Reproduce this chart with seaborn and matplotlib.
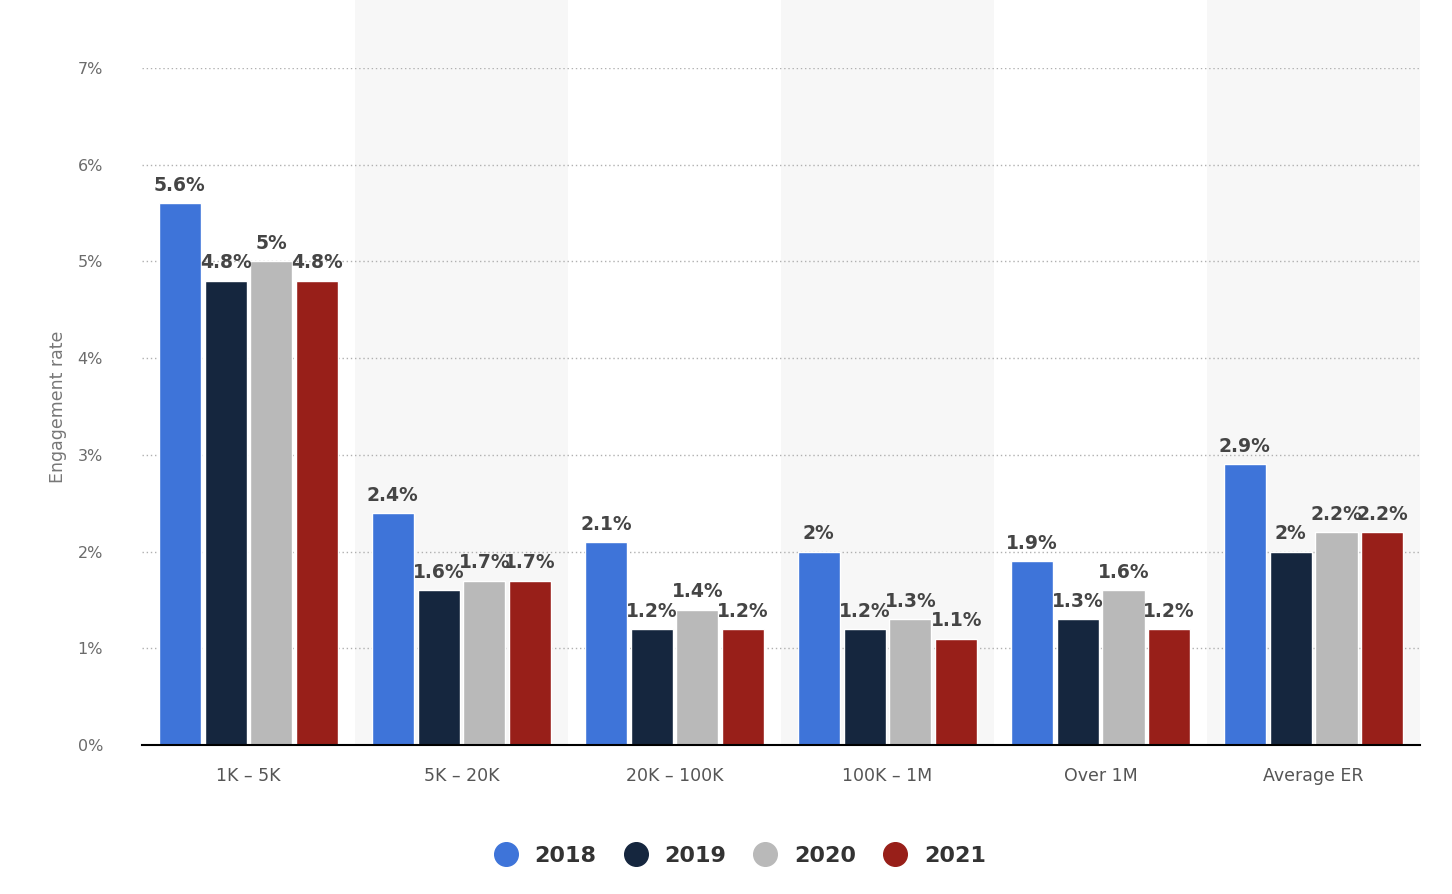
import numpy as np
import pandas as pd
import seaborn as sns
import matplotlib.pyplot as plt
from matplotlib.lines import Line2D

# data
categories = ['1K – 5K', '5K – 20K', '20K – 100K', '100K – 1M', 'Over 1M', 'Average ER']
years = ['2018', '2019', '2020', '2021']
er_2018 = [5.6, 2.4, 2.1, 2.0, 1.9, 2.9]
er_2019 = [4.8, 1.6, 1.2, 1.2, 1.3, 2.0]
er_2020 = [5.0, 1.7, 1.4, 1.3, 1.6, 2.2]
er_2021 = [4.8, 1.7, 1.2, 1.1, 1.2, 2.2]
y_ticks = [0, 1, 2, 3, 4, 5, 6, 7]

colors = {'2018': '#3e74d9', '2019': '#15263e', '2020': '#b9b9b9', '2021': '#981f19'}

df = pd.DataFrame({
    'category': categories * 4,
    'year': np.repeat(years, len(categories)),
    'rate': er_2018 + er_2019 + er_2020 + er_2021,
})

sns.set_theme(style='white')
plt.rcParams['font.family'] = ['DejaVu Sans']

fig = plt.figure(figsize=(14.52, 8.94), dpi=100)
ax = fig.add_axes([0.0978, 0.1667, 0.8802, 0.7573])

# alternating background bands
for i in range(1, len(categories), 2):
    ax.axvspan(i - 0.5, i + 0.5, ymin=0, ymax=1.1, color='#f7f7f7', zorder=0, clip_on=False, lw=0)

sns.barplot(data=df, x='category', y='rate', hue='year', palette=colors,
            width=0.86, gap=0.08, ax=ax, legend=False, zorder=3, saturation=1)

for cont in ax.containers:
    ax.bar_label(cont, labels=[f'{b.get_height():g}%' for b in cont], padding=6,
                 fontsize=13.5, fontweight='bold', color='#454545')

ax.set_xlim(-0.5, len(categories) - 0.5)
ax.set_ylim(0, 7)
ax.set_yticks(y_ticks)
ax.set_yticklabels([f'{t}%' for t in y_ticks])
ax.yaxis.grid(True, linestyle=(0, (1, 2)), color='#b0b0b0', linewidth=1)
ax.set_axisbelow(True)
for s in ['top', 'right', 'left']:
    ax.spines[s].set_visible(False)
ax.spines['bottom'].set_color('#000000')
ax.spines['bottom'].set_linewidth(1.5)
ax.spines['bottom'].set_zorder(5)

ax.tick_params(axis='y', length=0, pad=28, labelsize=11.5, labelcolor='#6b6b6b')
ax.tick_params(axis='x', length=0, pad=16, labelsize=12.5, labelcolor='#555555')
ax.set_xlabel('')
ax.set_ylabel('Engagement rate', fontsize=12.5, color='#777777', labelpad=8)

handles = [Line2D([0], [0], marker='o', linestyle='', markersize=17,
                  markerfacecolor=colors[y], markeredgecolor=colors[y]) for y in years]
fig.legend(handles, years, loc='center', bbox_to_anchor=(0.506, 0.043), ncol=4,
           frameon=False, handletextpad=0.3, columnspacing=0.75,
           prop={'weight': 'bold', 'size': 16})
for t in fig.legends[0].get_texts():
    t.set_color('#333333')

fig.savefig('out.png', dpi=100)
